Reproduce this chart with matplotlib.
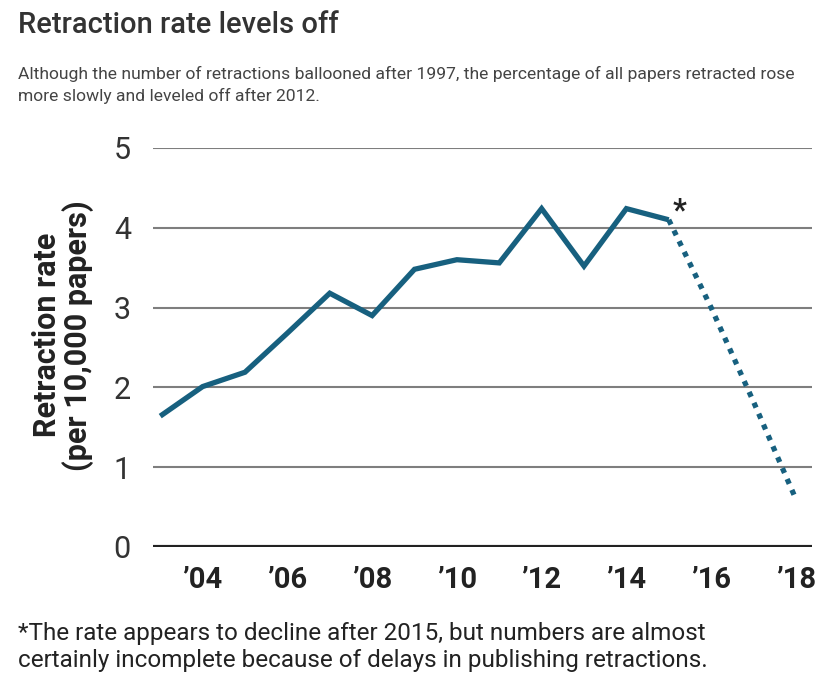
import numpy as np
import matplotlib
matplotlib.use('Agg')
import matplotlib.pyplot as plt

plt.rcParams['font.family'] = ['Roboto', 'DejaVu Sans']

# data
years = [2003, 2004, 2005, 2006, 2007, 2008, 2009, 2010, 2011, 2012, 2013, 2014, 2015]
rate = [1.64, 2.01, 2.19, 2.68, 3.18, 2.90, 3.48, 3.60, 3.56, 4.24, 3.52, 4.24, 4.10]
years_incomplete = [2015, 2016, 2017, 2018]
rate_incomplete = [4.10, 3.00, 1.82, 0.60]

xticks = [2004, 2006, 2008, 2010, 2012, 2014, 2016, 2018]
xticklabels = ["\u201904", "\u201906", "\u201908", "\u201910", "\u201912", "\u201914", "\u201916", "\u201918"]
yticks = [0, 1, 2, 3, 4, 5]

line_color = '#17607f'

fig = plt.figure(figsize=(8.34, 6.87), dpi=100)
ax = fig.add_axes([0.1835, 0.2038, 0.7901, 0.5808])

for v in yticks[1:]:
    ax.axhline(v, color='#7e7e7e', lw=1.5, zorder=1)
ax.axhline(0, color='#222222', lw=3, zorder=2)

ax.plot(years, rate, color=line_color, lw=3.8, solid_capstyle='butt',
        solid_joinstyle='miter', zorder=3)
ax.plot(years_incomplete, rate_incomplete, color=line_color, lw=3.8,
        linestyle=(0, (1, 1.25)), dash_capstyle='butt', zorder=3)
ax.text(years[-1] + 0.25, 4.22, '*', fontsize=22, color='#222222',
        ha='center', va='center', fontweight='bold')

ax.set_xlim(2002.83, 2018.38)
ax.set_ylim(0, 5)
ax.set_xticks(xticks)
ax.set_xticklabels(xticklabels, fontsize=21, fontweight='bold', color='#222222')
ax.set_yticks(yticks)
ax.set_yticklabels([str(v) for v in yticks], fontsize=22, color='#333333')
ax.tick_params(axis='both', length=0)
ax.tick_params(axis='x', pad=14)
ax.tick_params(axis='y', pad=16)
for s in ax.spines.values():
    s.set_visible(False)

fig.text(0.075, 0.512, 'Retraction rate\n(per 10,000 papers)', rotation=90,
         ha='center', va='center', fontsize=22, fontweight='bold',
         color='#222222', linespacing=1.0)

fig.text(0.022, 0.963, 'Retraction rate levels off', fontsize=21,
         color='#333333', ha='left', va='center', fontweight='medium')
fig.text(0.022, 0.876, 'Although the number of retractions ballooned after 1997, the percentage of all papers retracted rose\nmore slowly and leveled off after 2012.',
         fontsize=12.6, color='#444444', ha='left', va='center', linespacing=1.5)

fig.text(0.022, 0.058, '*The rate appears to decline after 2015, but numbers are almost\ncertainly incomplete because of delays in publishing retractions.',
         fontsize=17.5, color='#222222', ha='left', va='center', linespacing=1.2)

fig.savefig('out.png', dpi=100)
